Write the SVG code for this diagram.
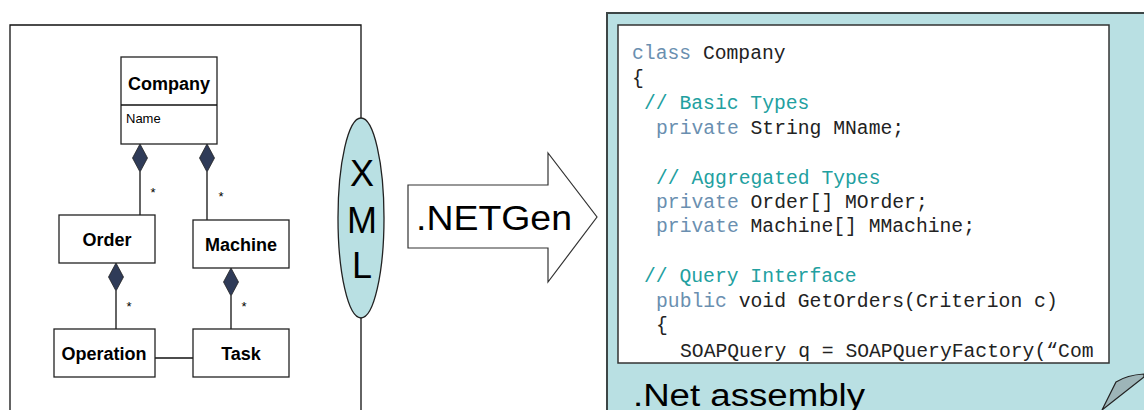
<svg xmlns="http://www.w3.org/2000/svg" width="1144" height="410" viewBox="0 0 1144 410">
<style>
.box{fill:#fff;stroke:#222;stroke-width:1.3}
.lbl{font-family:"Liberation Sans",Arial,sans-serif;font-weight:bold;font-size:18px;fill:#000;text-anchor:middle}
.ln{stroke:#111;stroke-width:1.3;fill:none}
.dia{fill:#2f3b58;stroke:#222;stroke-width:0.8}
.star{font-family:"Liberation Sans",Arial,sans-serif;font-size:13px;fill:#000;text-anchor:middle}
.code{font-family:"Liberation Mono","Courier New",monospace;font-size:19.7px;fill:#222;white-space:pre}
.kw{fill:#6a8fb0}
.cm{fill:#22a0a0}
.big{font-family:"Liberation Sans",Arial,sans-serif;fill:#000}
</style>
<rect width="1144" height="410" fill="#fff"/>
<g id="frame">
<path class="ln" d="M10,410 V25 H361 V410"/>
</g>
<g id="connectors">
<line class="ln" x1="140" y1="172" x2="140" y2="215"/>
<line class="ln" x1="207" y1="172" x2="207" y2="220"/>
<line class="ln" x1="116" y1="291" x2="116" y2="329"/>
<line class="ln" x1="231" y1="296" x2="231" y2="329"/>
<line class="ln" x1="155" y1="358" x2="193" y2="358"/>
<polygon class="dia" points="140,144 147.5,158 140,172 132.5,158"/>
<polygon class="dia" points="207,144 214.5,158 207,172 199.5,158"/>
<polygon class="dia" points="116,263 123.5,277 116,291 108.5,277"/>
<polygon class="dia" points="231,268 238.5,282 231,296 223.5,282"/>
<text class="star" x="153" y="197">*</text>
<text class="star" x="221" y="201">*</text>
<text class="star" x="129" y="311">*</text>
<text class="star" x="244" y="311">*</text>
</g>
<g id="company">
<rect class="box" x="121" y="57" width="96" height="87"/>
<line class="ln" x1="121" y1="105" x2="217" y2="105"/>
<text class="lbl" x="169" y="90">Company</text>
<text x="126" y="123" font-family="Liberation Sans, Arial, sans-serif" font-size="13" fill="#000">Name</text>
</g>
<g id="order">
<rect class="box" x="59" y="215" width="96" height="48"/>
<text class="lbl" x="107" y="246">Order</text>
</g>
<g id="machine">
<rect class="box" x="193" y="220" width="96" height="48"/>
<text class="lbl" x="241" y="251">Machine</text>
</g>
<g id="operation">
<rect class="box" x="54" y="329" width="101" height="48"/>
<text class="lbl" x="104" y="360">Operation</text>
</g>
<g id="task">
<rect class="box" x="193" y="329" width="96" height="48"/>
<text class="lbl" x="241" y="360">Task</text>
</g>
<g id="xml">
<ellipse cx="361" cy="218" rx="23" ry="100" fill="#b9e0e3" stroke="#222" stroke-width="1.3"/>
<text class="big" x="362" y="186" font-size="36" text-anchor="middle">X</text>
<text class="big" x="362" y="233" font-size="36" text-anchor="middle">M</text>
<text class="big" x="362" y="278" font-size="36" text-anchor="middle">L</text>
</g>
<g id="netgen">
<polygon points="408,185 548,185 548,153 597,217 548,282 548,248 408,248" fill="#fff" stroke="#333" stroke-width="1.2"/>
<text class="big" x="416" y="230" font-size="35" textLength="156" lengthAdjust="spacingAndGlyphs">.NETGen</text>
</g>
<g id="assembly">
<rect x="607" y="13" width="560" height="420" fill="#b9e0e3" stroke="#3c4646" stroke-width="2"/>
<rect x="618" y="25" width="491" height="338" fill="#fff" stroke="#333" stroke-width="1.5"/>
<text class="code" x="632" y="59"><tspan class="kw">class</tspan> Company</text>
<text class="code" x="632" y="84">{</text>
<text class="code" x="644" y="109"><tspan class="cm">// Basic Types</tspan></text>
<text class="code" x="656" y="134"><tspan class="kw">private</tspan> String MName;</text>
<text class="code" x="656" y="184"><tspan class="cm">// Aggregated Types</tspan></text>
<text class="code" x="656" y="208"><tspan class="kw">private</tspan> Order[] MOrder;</text>
<text class="code" x="656" y="232"><tspan class="kw">private</tspan> Machine[] MMachine;</text>
<text class="code" x="644" y="282"><tspan class="cm">// Query Interface</tspan></text>
<text class="code" x="656" y="307"><tspan class="kw">public</tspan> void GetOrders(Criterion c)</text>
<text class="code" x="656" y="331">{</text>
<text class="code" x="680" y="357">SOAPQuery q = SOAPQueryFactory(“Com</text>
<text class="big" x="633" y="406" font-size="31" textLength="232" lengthAdjust="spacingAndGlyphs">.Net assembly</text>
<path d="M1102,410 L1116,382 Q1127,375 1144,374 L1144,377 Z" fill="#9db5b8" stroke="#222" stroke-width="1.2"/>
</g>
</svg>
